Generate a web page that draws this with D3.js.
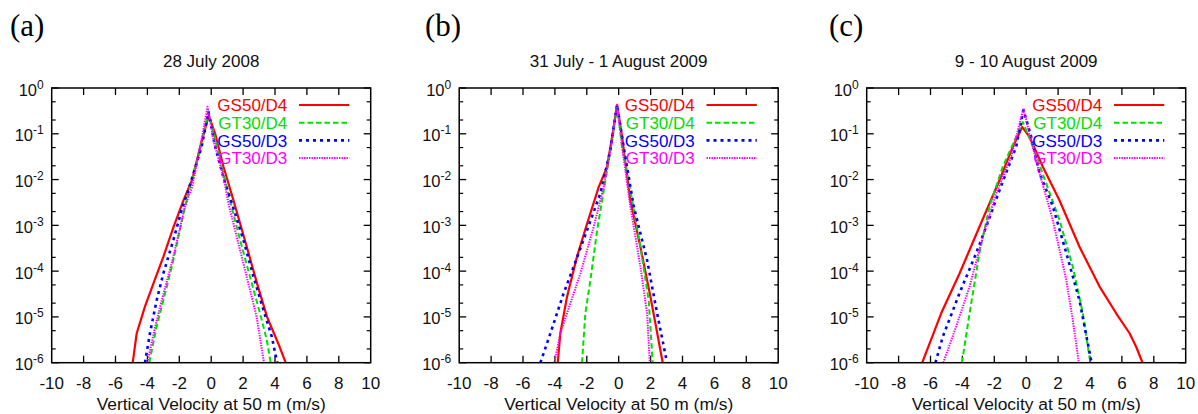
<!DOCTYPE html>
<html><head><meta charset="utf-8">
<script src="https://cdn.jsdelivr.net/npm/d3@7"></script>
<style>html,body{margin:0;padding:0;background:#fff;}svg{display:block;}</style>
</head><body>
<svg id="chart" width="1198" height="414"></svg>
<script>
// ---- data (velocity m/s, probability) ----
const panelLetters = ["(a)", "(b)", "(c)"];
const panelTitles = ["28 July 2008", "31 July - 1 August 2009", "9 - 10 August 2009"];
const seriesNames = ["GS50/D4", "GT30/D4", "GS50/D3", "GT30/D3"];
const xTicks = [-10, -8, -6, -4, -2, 0, 2, 4, 6, 8, 10];
const yTickExponents = [0, -1, -2, -3, -4, -5, -6];
const xLabel = "Vertical Velocity at 50 m (m/s)";

const gs50d4_a = [[-4.92,1e-6],[-4.67,4.4e-6],[-4.15,1.7e-5],[-3.62,5.4e-5],[-2.99,2.1e-4],[-2.36,9.3e-4],[-1.74,3.5e-3],[-1.2,9.8e-3],[-0.69,5.2e-2],[-0.15,0.25],[0.25,0.1],[0.77,1.9e-2],[1.4,3.5e-3],[2.23,3.4e-4],[2.9,5.0e-5],[3.5,1.0e-5],[4.21,2.6e-6],[4.67,1e-6]];
const gt30d4_a = [[-3.88,1e-6],[-3.42,6.2e-6],[-3.0,2.3e-5],[-2.37,1.74e-4],[-1.74,1.8e-3],[-1.33,6.9e-3],[-0.7,4.5e-2],[-0.17,0.3],[0.36,5.2e-2],[0.87,9.8e-3],[1.18,3.5e-3],[1.81,4.8e-4],[2.43,7.6e-5],[3.06,1.2e-5],[3.48,3.2e-6],[3.73,1e-6]];
const gs50d3_a = [[-4.15,1e-6],[-3.84,4.4e-6],[-3.42,2.3e-5],[-3.0,8.9e-5],[-2.37,4.8e-4],[-1.85,2.2e-3],[-1.43,5.9e-3],[-0.6,5.2e-2],[-0.17,0.3],[0.25,5.2e-2],[0.81,9.8e-3],[1.3,3.0e-3],[2.02,4.8e-4],[2.65,7.6e-5],[3.28,1.4e-5],[3.8,3.7e-6],[4.11,1.1e-6],[4.15,1e-6]];
const gt30d3_a = [[-4.0,1e-6],[-3.51,6.2e-6],[-3.1,2.3e-5],[-2.37,2.1e-4],[-1.64,2.6e-3],[-1.2,6.9e-3],[-0.69,5.2e-2],[-0.23,0.39],[0.14,7.2e-2],[0.77,1.15e-2],[1.08,3.0e-3],[1.7,4.1e-4],[2.33,5.4e-5],[2.85,1e-5],[3.31,1e-6]];

const gs50d4_b = [[-3.82,1e-6],[-3.66,4.4e-6],[-3.24,2.75e-5],[-2.61,2.1e-4],[-1.98,1.1e-3],[-1.25,6.9e-3],[-0.73,1.9e-2],[-0.41,8.7e-2],[-0.1,0.43],[0.21,8.7e-2],[0.73,3.5e-3],[1.36,3.4e-4],[1.99,2.75e-5],[2.76,1e-6]];
const gt30d4_b = [[-2.3,1e-6],[-2.09,1.2e-5],[-1.77,6.5e-5],[-1.35,7.9e-4],[-0.83,9.8e-3],[-0.41,7.2e-2],[-0.1,0.43],[0.21,5.2e-2],[0.73,5.9e-3],[1.36,3.4e-4],[1.88,2.3e-5],[2.13,1e-6]];
const gs50d3_b = [[-4.91,1e-6],[-4.28,4.4e-6],[-3.45,3.3e-5],[-2.82,1.26e-4],[-1.98,7.9e-4],[-1.15,5.0e-3],[-0.52,4.5e-2],[-0.1,0.43],[0.31,5.2e-2],[0.94,2.6e-3],[1.78,1.74e-4],[2.41,1.2e-5],[3.03,1e-6]];
const gt30d3_b = [[-4.03,1e-6],[-3.66,4.4e-6],[-3.24,1.2e-5],[-2.4,8.9e-5],[-1.57,9.3e-4],[-0.94,6.9e-3],[-0.41,7.2e-2],[-0.1,0.45],[0.21,5.2e-2],[0.73,2.6e-3],[1.36,1.26e-4],[1.78,1.2e-5],[1.95,1e-6]];

const gs50d4_c = [[-6.52,1e-6],[-6.06,2.6e-6],[-5.33,1.2e-5],[-4.18,8.9e-5],[-2.93,9.3e-4],[-1.67,9.8e-3],[-0.84,5.2e-2],[-0.25,0.14],[0.2,8.7e-2],[1.04,1.9e-2],[2.09,3.5e-3],[3.34,3.4e-4],[4.6,4.6e-5],[5.64,1.2e-5],[6.48,4.4e-6],[6.9,2.2e-6],[7.29,1e-6]];
const gt30d4_c = [[-4.03,1e-6],[-3.55,1.2e-5],[-2.93,2.5e-4],[-2.3,2.6e-3],[-1.47,1.9e-2],[-0.73,7.2e-2],[-0.21,0.18],[0.42,5.2e-2],[1.25,8.3e-3],[2.09,1.3e-3],[2.92,1.26e-4],[3.55,1.2e-5],[4.02,1e-6]];
const gs50d3_c = [[-5.69,1e-6],[-5.23,3.7e-6],[-4.18,3.3e-5],[-3.13,2.5e-4],[-2.51,9.3e-4],[-1.67,5.9e-3],[-0.63,5.2e-2],[-0.17,0.33],[0.31,8.7e-2],[0.83,1.4e-2],[1.67,2.6e-3],[2.51,2.5e-4],[3.34,2.3e-5],[4.1,1e-6]];
const gt30d3_c = [[-5.2,1e-6],[-4.39,6.2e-6],[-3.55,4.6e-5],[-2.72,5.6e-4],[-1.88,5.0e-3],[-0.94,3.2e-2],[-0.17,0.36],[0.2,0.1],[0.83,1.4e-2],[1.67,1.3e-3],[2.51,6.5e-5],[2.92,8.5e-6],[3.3,1e-6]];

const panelData = [
  [gs50d4_a, gt30d4_a, gs50d3_a, gt30d3_a],
  [gs50d4_b, gt30d4_b, gs50d3_b, gt30d3_b],
  [gs50d4_c, gt30d4_c, gs50d3_c, gt30d3_c]
];

// ---- styles ----
const colors = ["#ff0000", "#00e000", "#0000ff", "#ff00ff"];
const dashes = [null, "5.5,3", "3,4", "1.4,1.1"];
const widths = [2.2, 2, 2.6, 2];

const svg = d3.select("#chart");
const sans = "'Liberation Sans', Arial, Helvetica, sans-serif";
const serif = "'Liberation Serif', 'Times New Roman', serif";

const plotLefts = [51.7, 459.2, 866.7];
const letterX = [10, 425, 829];
const plotW = 319, plotTop = 88, plotBottom = 362.7;

panelData.forEach((series, pi) => {
  const L = plotLefts[pi], R = L + plotW;
  const x = d3.scaleLinear().domain([-10, 10]).range([L, R]);
  const y = d3.scaleLog().domain([1e-6, 1]).range([plotBottom, plotTop]);
  const g = svg.append("g");

  g.append("text").attr("x", letterX[pi]).attr("y", 36)
    .attr("font-family", serif).attr("font-size", 31).attr("fill", "#000")
    .text(panelLetters[pi]);
  g.append("text").attr("x", (L + R) / 2).attr("y", 66.5)
    .attr("text-anchor", "middle").attr("font-family", sans).attr("font-size", 17)
    .attr("fill", "#111").text(panelTitles[pi]);

  const cid = "clip" + pi;
  svg.append("defs").append("clipPath").attr("id", cid)
    .append("rect").attr("x", L).attr("y", plotTop).attr("width", plotW).attr("height", plotBottom - plotTop);

  const xt = x.ticks(10).filter(v => v > -10 && v < 10);
  xt.forEach(v => {
    g.append("line").attr("x1", x(v)).attr("x2", x(v)).attr("y1", plotBottom).attr("y2", plotBottom - 7)
      .attr("stroke", "#000").attr("stroke-width", 1.3);
    g.append("line").attr("x1", x(v)).attr("x2", x(v)).attr("y1", plotTop).attr("y2", plotTop + 7)
      .attr("stroke", "#000").attr("stroke-width", 1.3);
  });
  yTickExponents.forEach(e => {
    const p = Math.pow(10, e);
    [[L, 1], [R, -1]].forEach(([xx, dir]) => {
      g.append("line").attr("x1", xx).attr("x2", xx + dir * 7).attr("y1", y(p)).attr("y2", y(p))
        .attr("stroke", "#000").attr("stroke-width", 1.3);
      if (e < 0) {
        [2, 5].forEach(m => {
          const pm = m * p;
          g.append("line").attr("x1", xx).attr("x2", xx + dir * 4).attr("y1", y(pm)).attr("y2", y(pm))
            .attr("stroke", "#000").attr("stroke-width", 1.2);
        });
      }
    });
  });

  const line = d3.line().x(d => x(d[0])).y(d => y(d[1]));
  const cg = g.append("g").attr("clip-path", `url(#${cid})`);
  series.forEach((s, si) => {
    cg.append("path").datum(s).attr("d", line).attr("fill", "none")
      .attr("stroke", colors[si]).attr("stroke-width", widths[si])
      .attr("stroke-dasharray", dashes[si]).attr("stroke-linejoin", "round");
  });

  seriesNames.forEach((n, si) => {
    const ly = 105 + si * 17.7;
    g.append("text").attr("x", L + 235.6).attr("y", ly + 6.2).attr("text-anchor", "end")
      .attr("font-family", sans).attr("font-size", 17).attr("fill", colors[si]).text(n);
    g.append("line").attr("x1", L + 247.3).attr("x2", L + 297.6).attr("y1", ly).attr("y2", ly)
      .attr("stroke", colors[si]).attr("stroke-width", widths[si]).attr("stroke-dasharray", dashes[si]);
  });

  g.append("rect").attr("x", L).attr("y", plotTop).attr("width", plotW).attr("height", plotBottom - plotTop)
    .attr("fill", "none").attr("stroke", "#000").attr("stroke-width", 1.5);

  xTicks.forEach(v => {
    g.append("text").attr("x", x(v)).attr("y", 388.5).attr("text-anchor", "middle")
      .attr("font-family", sans).attr("font-size", 17).attr("fill", "#111").text(v);
  });
  yTickExponents.forEach(e => {
    const t = g.append("text").attr("x", L - 8).attr("y", y(Math.pow(10, e)) + 7.5)
      .attr("text-anchor", "end").attr("font-family", sans).attr("font-size", 16.5).attr("fill", "#111");
    t.append("tspan").text("10");
    t.append("tspan").attr("dy", -7).attr("font-size", 12).text(String(e));
  });
  g.append("text").attr("x", (L + R) / 2).attr("y", 409.5).attr("text-anchor", "middle")
    .attr("font-family", sans).attr("font-size", 17.4).attr("fill", "#111").text(xLabel);
});
</script>
</body></html>
